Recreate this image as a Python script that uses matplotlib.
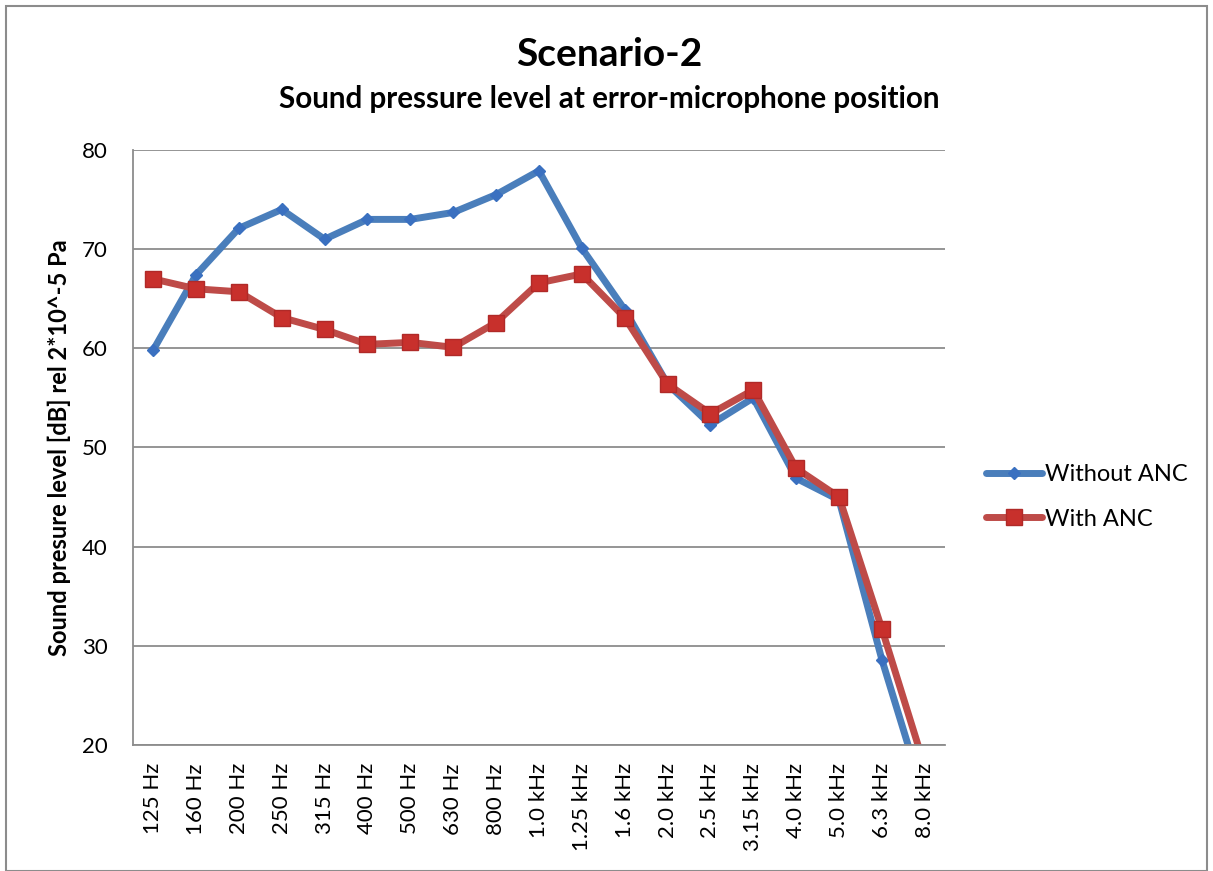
import numpy as np
import matplotlib.pyplot as plt

plt.rcParams['font.family'] = ['Lato', 'DejaVu Sans']

# Third-octave bands
bands = ['125 Hz', '160 Hz', '200 Hz', '250 Hz', '315 Hz', '400 Hz', '500 Hz',
         '630 Hz', '800 Hz', '1.0 kHz', '1.25 kHz', '1.6 kHz', '2.0 kHz',
         '2.5 kHz', '3.15 kHz', '4.0 kHz', '5.0 kHz', '6.3 kHz', '8.0 kHz']

# Sound pressure level [dB]
without_anc = [59.8, 67.4, 72.1, 74.0, 71.0, 73.0, 73.0, 73.7, 75.5, 77.9,
               70.1, 63.9, 56.4, 52.3, 55.0, 46.9, 44.7, 28.6, 14.5]
with_anc = [67.0, 66.0, 65.7, 63.1, 61.9, 60.4, 60.6, 60.1, 62.6, 66.6,
            67.5, 63.1, 56.4, 53.4, 55.8, 47.9, 45.0, 31.7, 17.8]

x = np.arange(len(bands))

fig = plt.figure(figsize=(12.13, 8.71), dpi=100)
ax = fig.add_axes([0.1096, 0.1447, 0.6694, 0.6831])

ax.plot(x, without_anc, color='#4a7ebb', lw=5, marker='D', ms=6,
        mfc='#3a70c0', mec='#3a70c0', label='Without ANC', solid_capstyle='round')
ax.plot(x, with_anc, color='#be4b48', lw=5, marker='s', ms=11,
        mfc='#c8302c', mec='#b02a28', label='With ANC', solid_capstyle='round')

ax.set_xlim(-0.47, len(bands) - 0.53)
ax.set_ylim(20, 80)
ax.set_yticks([20, 30, 40, 50, 60, 70, 80])
ax.set_xticks(x)
ax.set_xticklabels(bands, rotation=90, fontsize=16)
ax.tick_params(axis='y', labelsize=16, length=0, pad=18)
ax.tick_params(axis='x', length=0, pad=13)

ax.grid(axis='y', color='#8c8c8c', lw=1.3)
ax.set_axisbelow(True)
for s in ['top', 'right']:
    ax.spines[s].set_visible(False)
for s in ['left', 'bottom']:
    ax.spines[s].set_color('#8c8c8c')
    ax.spines[s].set_linewidth(1.3)

ax.set_ylabel('Sound presure level [dB] rel 2*10^-5 Pa', fontsize=17,
              fontweight='bold', labelpad=8)

fig.text(0.502, 0.937, 'Scenario-2', ha='center', va='center',
         fontsize=28, fontweight='bold')
fig.text(0.502, 0.886, 'Sound pressure level at error-microphone position',
         ha='center', va='center', fontsize=21.3, fontweight='bold')

ax.legend(loc='center left', bbox_to_anchor=(1.024, 0.417), frameon=False,
          fontsize=17, handlelength=2.4, handletextpad=0.1, labelspacing=1.0)

# outer chart frame
fig.patches.append(plt.Rectangle((0.005, 0.0), 0.99, 0.993, transform=fig.transFigure,
                                 fill=False, ec='#8c8c8c', lw=1.5))

fig.savefig('out.png', dpi=100)
